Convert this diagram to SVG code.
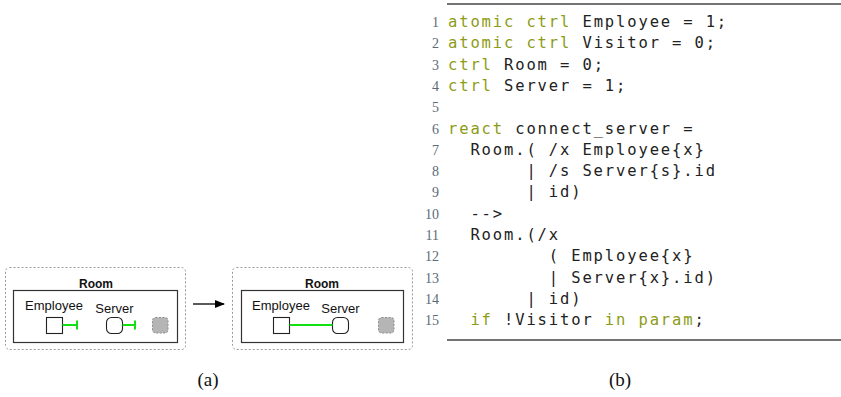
<svg xmlns="http://www.w3.org/2000/svg" width="841" height="397" viewBox="0 0 841 397">
<style>
.outer{fill:none;stroke:#9a9a9a;stroke-width:1;stroke-dasharray:2,2}
.inner{fill:#fff;stroke:#333;stroke-width:1.2}
.node{fill:#fff;stroke:#222;stroke-width:1.1}
.site{fill:#b5b5b5;stroke:#8c8c8c;stroke-width:1;stroke-dasharray:2,1.5}
.lnk{fill:none;stroke:#11e011;stroke-width:2}
.room{font-family:"Liberation Sans",Arial,sans-serif;font-weight:bold;font-size:12px;fill:#111;text-anchor:middle}
.lbl{font-family:"Liberation Sans",Arial,sans-serif;font-size:13px;fill:#111;text-anchor:middle}
.code{font-family:"DejaVu Sans Mono",monospace;font-size:15.5px;letter-spacing:1.87px;fill:#222;white-space:pre}
.kw{fill:#8c9c17}
.ln{font-family:"Liberation Serif",serif;font-size:14px;fill:#5a6b7a;text-anchor:end}
.cap{font-family:"Liberation Serif",serif;font-size:19px;fill:#111;text-anchor:middle}
.rule{stroke:#444;stroke-width:1.3}
.gray{opacity:0.995}
</style>
<defs>
<marker id="ah" markerWidth="10" markerHeight="10" refX="9" refY="4" orient="auto" markerUnits="userSpaceOnUse">
<path d="M0,0 L10,4 L0,8 z" fill="#000"/>
</marker>
</defs>

<g id="left-bigraph">
<rect class="outer" x="5.5" y="267.5" width="180" height="82" rx="4"/>
<text class="room" x="96" y="288">Room</text>
<rect class="inner" x="13.5" y="290.5" width="164" height="52"/>
<g id="l-employee">
<text class="lbl" x="54" y="310">Employee</text>
<rect class="node" x="46.5" y="317.5" width="16" height="16"/>
</g>
<g id="l-server">
<text class="lbl" x="114.5" y="313">Server</text>
<rect class="node" x="106.5" y="317.5" width="16" height="16" rx="5"/>
</g>
<rect id="l-site" class="site" x="152.5" y="317.5" width="15.5" height="15.5" rx="3"/>
</g>

<g id="right-bigraph">
<rect class="outer" x="232.5" y="267.5" width="180" height="82" rx="4"/>
<text class="room" x="322" y="288">Room</text>
<rect class="inner" x="241.5" y="290.5" width="162" height="52"/>
<g id="r-employee">
<text class="lbl" x="281" y="310">Employee</text>
<rect class="node" x="273.5" y="317.5" width="16" height="16"/>
</g>
<g id="r-server">
<text class="lbl" x="340.5" y="313">Server</text>
<rect class="node" x="332.5" y="317.5" width="16" height="16" rx="5"/>
</g>
<rect id="r-site" class="site" x="378.5" y="317.5" width="15.5" height="15.5" rx="3"/>
</g>

<g id="connectors">
<path class="lnk" d="M62.5,325 H77 M77,320.5 V329.5"/>
<path class="lnk" d="M122.5,325 H135 M135,320.5 V329.5"/>
<path class="lnk" d="M289.5,325 H332.5"/>
<line x1="193" y1="304" x2="224" y2="304" stroke="#000" stroke-width="1.3" marker-end="url(#ah)"/>
</g>

<g id="listing">
<line class="rule" x1="447" y1="4" x2="841" y2="4"/>
<line class="rule" x1="447" y1="340" x2="841" y2="340"/>
<g class="ln">
<text x="439" y="27">1</text>
<text x="439" y="48.3">2</text>
<text x="439" y="69.6">3</text>
<text x="439" y="90.9">4</text>
<text x="439" y="112.2">5</text>
<text x="439" y="133.5">6</text>
<text x="439" y="154.8">7</text>
<text x="439" y="176.1">8</text>
<text x="439" y="197.4">9</text>
<text x="439" y="218.7">10</text>
<text x="439" y="240">11</text>
<text x="439" y="261.3">12</text>
<text x="439" y="282.6">13</text>
<text x="439" y="303.9">14</text>
<text x="439" y="325.2">15</text>
</g>
<g class="gray">
<text class="code" x="448" y="27" xml:space="preserve"><tspan class="kw">atomic ctrl</tspan> Employee = 1;</text>
<text class="code" x="448" y="48.3" xml:space="preserve"><tspan class="kw">atomic ctrl</tspan> Visitor = 0;</text>
<text class="code" x="448" y="69.6" xml:space="preserve"><tspan class="kw">ctrl</tspan> Room = 0;</text>
<text class="code" x="448" y="90.9" xml:space="preserve"><tspan class="kw">ctrl</tspan> Server = 1;</text>
<text class="code" x="448" y="133.5" xml:space="preserve"><tspan class="kw">react</tspan> connect_server =</text>
<text class="code" x="448" y="154.8" xml:space="preserve">  Room.( /x Employee{x}</text>
<text class="code" x="448" y="176.1" xml:space="preserve">       | /s Server{s}.id</text>
<text class="code" x="448" y="197.4" xml:space="preserve">       | id)</text>
<text class="code" x="448" y="218.7" xml:space="preserve">  --&gt;</text>
<text class="code" x="448" y="240" xml:space="preserve">  Room.(/x</text>
<text class="code" x="448" y="261.3" xml:space="preserve">         ( Employee{x}</text>
<text class="code" x="448" y="282.6" xml:space="preserve">         | Server{x}.id)</text>
<text class="code" x="448" y="303.9" xml:space="preserve">       | id)</text>
<text class="code" x="448" y="325.2" xml:space="preserve">  <tspan class="kw">if</tspan> !Visitor <tspan class="kw">in param</tspan>;</text>
</g>
</g>

<text class="cap" x="208" y="386">(a)</text>
<text class="cap" x="620" y="386">(b)</text>
</svg>
